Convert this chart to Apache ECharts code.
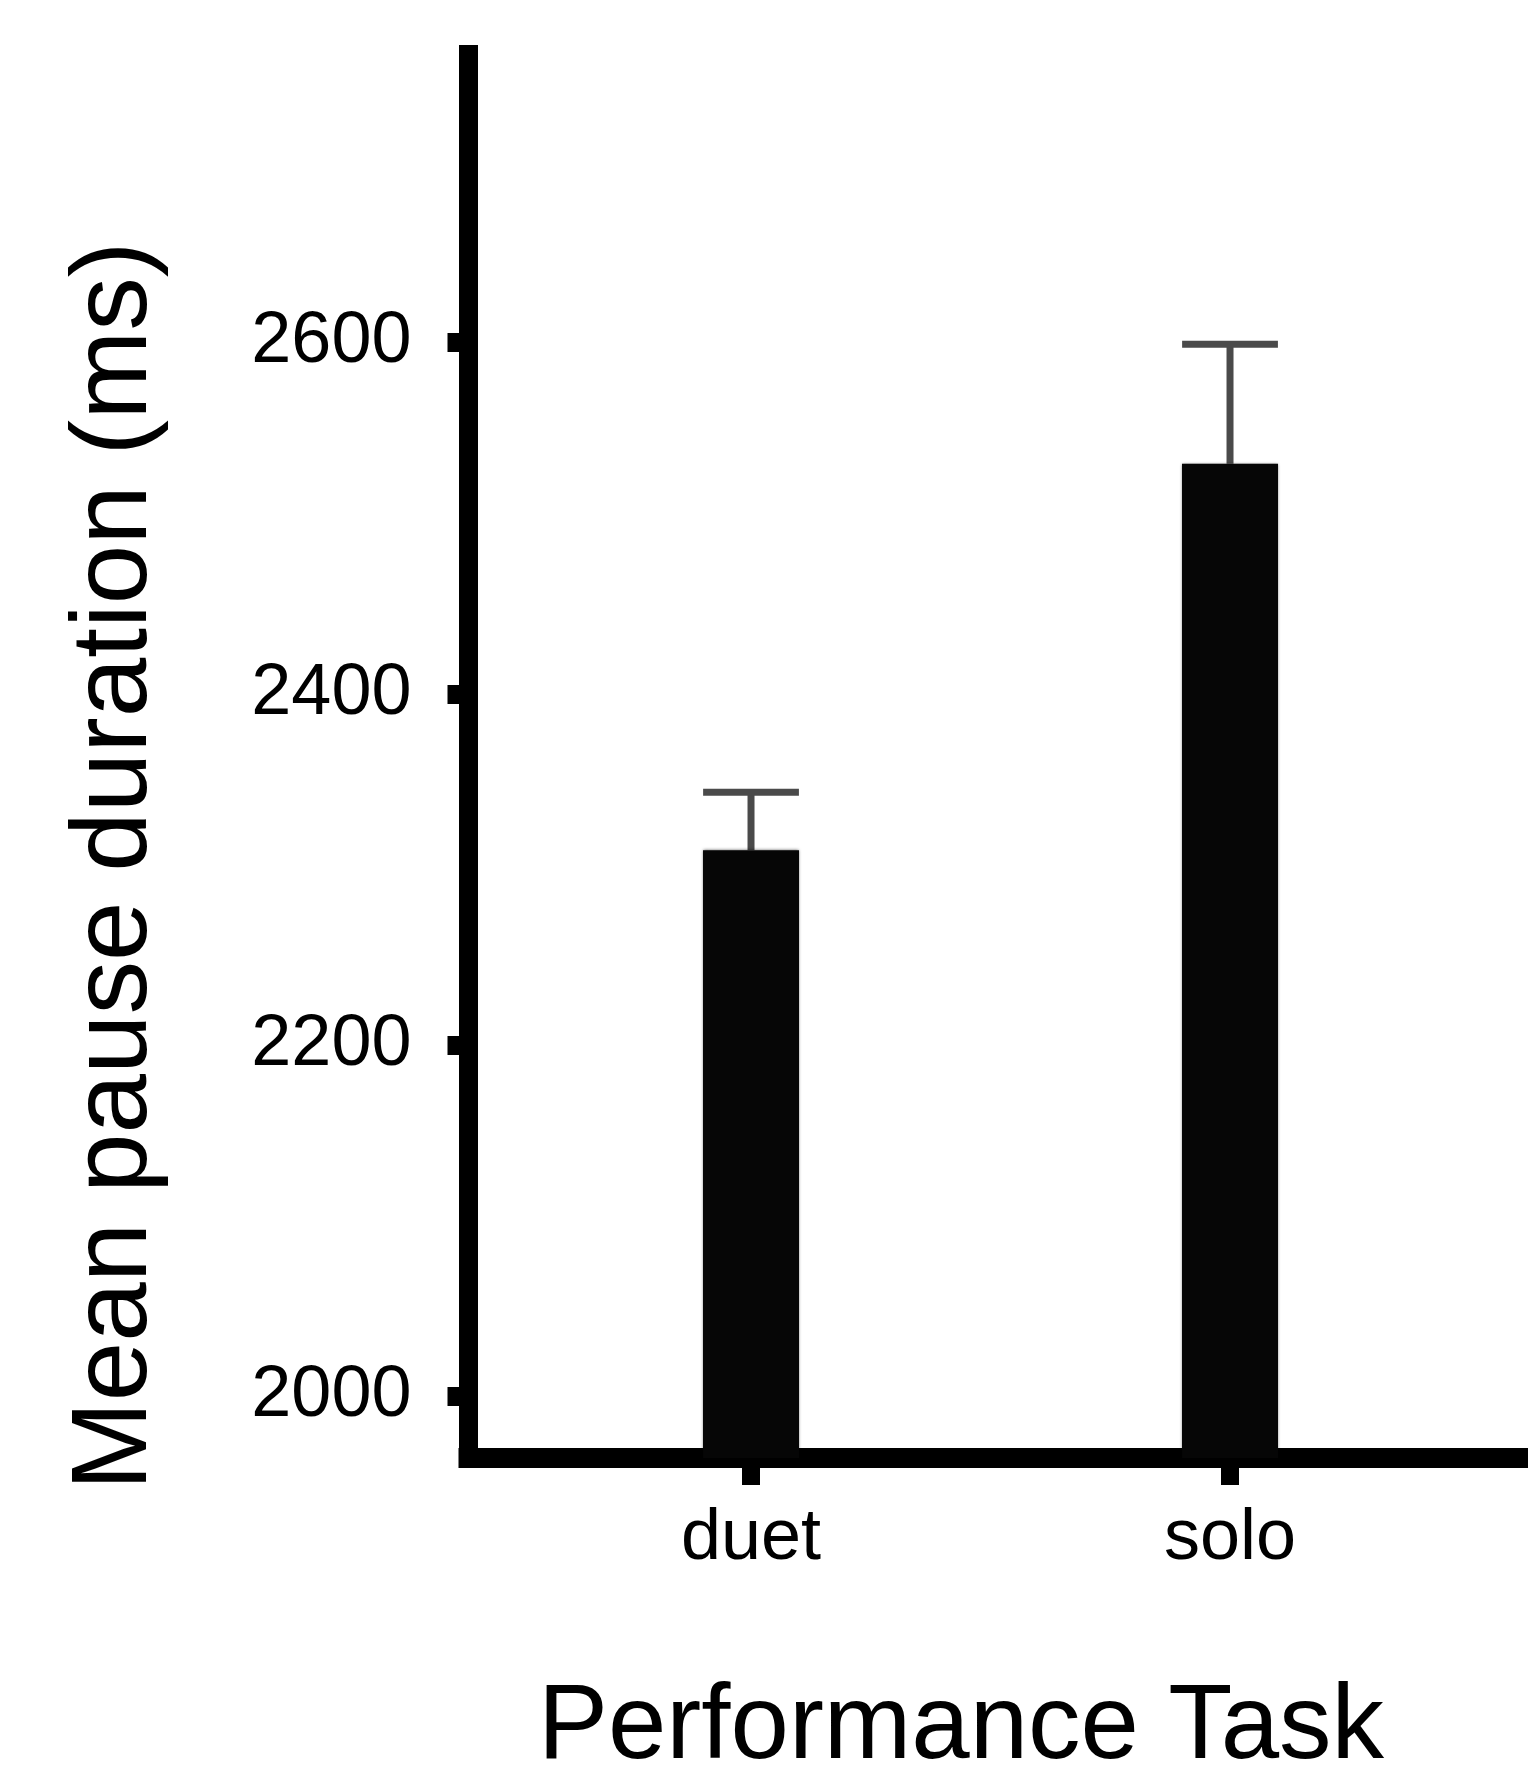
<!DOCTYPE html>
<html>
<head>
<meta charset="utf-8">
<script src="https://cdn.jsdelivr.net/npm/echarts@6/dist/echarts.min.js"></script>
<style>
  html, body { margin: 0; padding: 0; background: #ffffff; }
  #chart { width: 1528px; height: 1789px; }
</style>
</head>
<body>
<div id="chart"></div>
<script>
// ---- data ----
const categories = ['duet', 'solo'];
const meanValues = [2311, 2531];
const errorUpper = [2344, 2599];
const yTickValues = [2000, 2200, 2400, 2600];
const yAxisTitle = 'Mean pause duration (ms)';
const xAxisTitle = 'Performance Task';

const catIdx = categories.map((c, i) => i);
const barData = categories.map((c, i) => [i, meanValues[i]]);
const errData = categories.map((c, i) => [i, meanValues[i], errorUpper[i]]);

const FONT = '"Liberation Sans", Arial, Helvetica, sans-serif';
const chart = echarts.init(document.getElementById('chart'), null, { renderer: 'canvas' });

chart.setOption({
  animation: false,
  backgroundColor: '#ffffff',
  grid: { left: 468.5, right: 0, top: 45, bottom: 331, containLabel: false },
  xAxis: {
    type: 'value',
    min: -0.5898,
    max: 1.6221,
    splitLine: { show: false },
    axisLine: { show: true, onZero: false, lineStyle: { color: '#000', width: 20, cap: 'square' } },
    axisTick: { show: true, customValues: catIdx, length: 27, lineStyle: { color: '#000', width: 18, cap: 'butt' } },
    axisLabel: {
      customValues: catIdx,
      formatter: v => categories[Math.round(v)] || '',
      margin: 45,
      color: '#000',
      fontSize: 72,
      fontFamily: FONT
    }
  },
  yAxis: {
    type: 'value',
    min: 1965,
    max: 2769.4,
    splitLine: { show: false },
    axisLine: { show: true, onZero: false, lineStyle: { color: '#000', width: 19, cap: 'butt' } },
    axisTick: { show: true, customValues: yTickValues, length: 21, lineStyle: { color: '#000', width: 19, cap: 'butt' } },
    axisLabel: {
      customValues: yTickValues,
      formatter: v => String(v),
      margin: 57,
      color: '#000',
      fontSize: 72,
      fontFamily: FONT
    }
  },
  graphic: [
    {
      type: 'text',
      x: 116, y: 866,
      rotation: Math.PI / 2,
      style: {
        text: yAxisTitle,
        fill: '#000',
        font: '107px ' + FONT,
        textAlign: 'center',
        textVerticalAlign: 'middle'
      }
    },
    {
      type: 'text',
      x: 961, y: 1782,
      style: {
        text: xAxisTitle,
        fill: '#000',
        font: '105px ' + FONT,
        textAlign: 'center',
        textVerticalAlign: 'bottom'
      }
    }
  ],
  series: [
    {
      type: 'custom',
      z: 1,
      renderItem: function (params, api) {
        const x = api.value(0);
        const top = api.coord([x, api.value(2)]);
        const mid = api.coord([x, api.value(1)]);
        const half = api.size([0.2, 0])[0] / 2;
        const style = { stroke: '#4a4a4a', lineWidth: 7 };
        return {
          type: 'group',
          children: [
            { type: 'line', shape: { x1: top[0], y1: top[1], x2: mid[0], y2: mid[1] }, style: style },
            { type: 'line', shape: { x1: top[0] - half, y1: top[1], x2: top[0] + half, y2: top[1] }, style: style }
          ]
        };
      },
      data: errData
    },
    {
      type: 'bar',
      z: 2,
      data: barData,
      barWidth: 96,
      itemStyle: { color: '#060606', shadowBlur: 3, shadowColor: 'rgba(0,0,0,0.6)' }
    }
  ]
});
</script>
</body>
</html>
